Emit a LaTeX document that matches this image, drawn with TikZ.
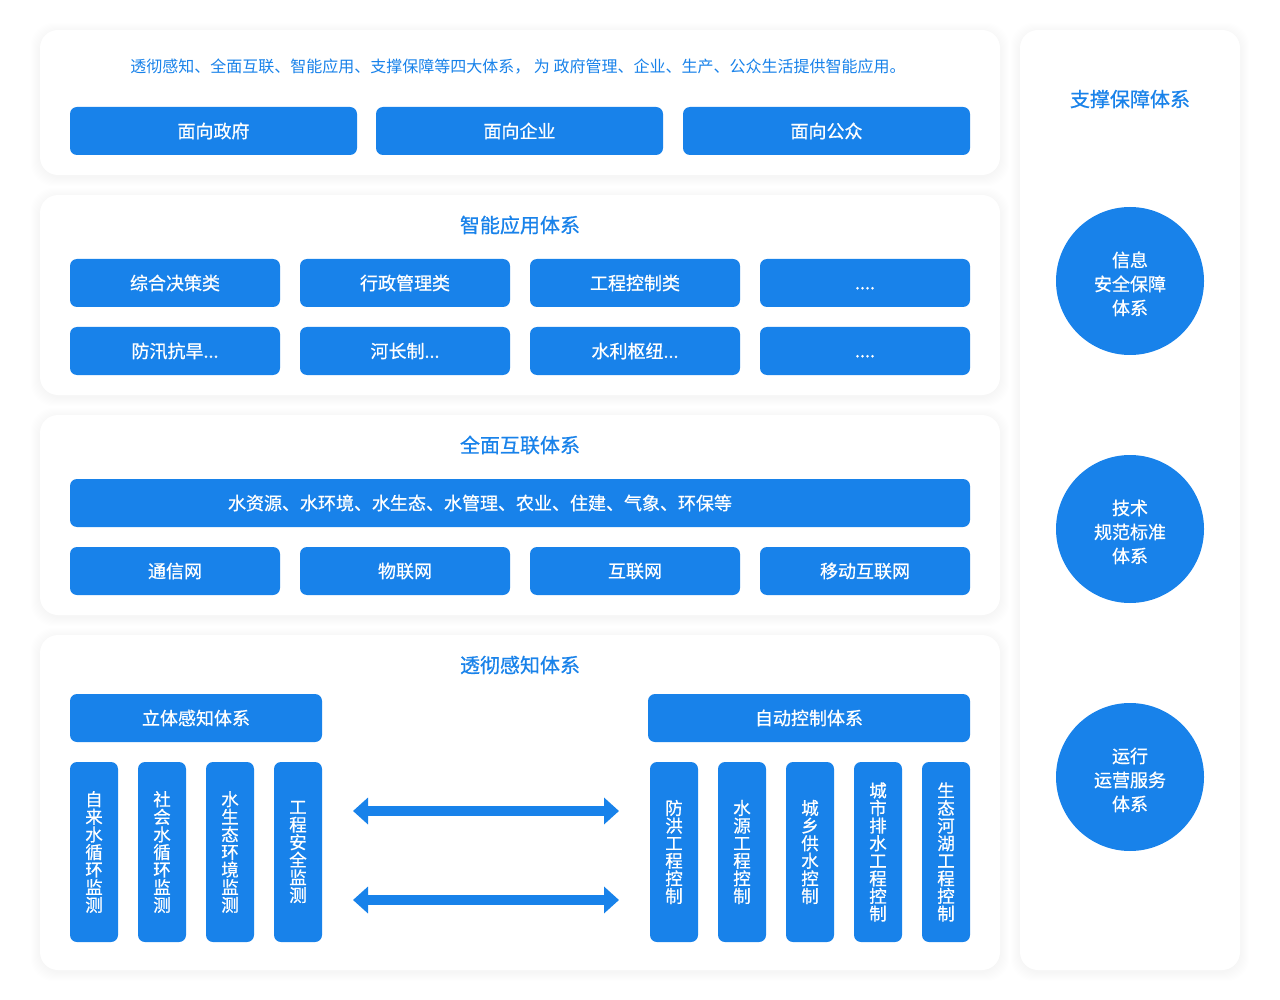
\documentclass[tikz,border=0pt]{standalone}
\usepackage{fontspec}
\setmainfont{Noto Sans CJK SC}
\newfontfamily\medfont[FakeBold=0.7]{Noto Sans CJK SC}
\usetikzlibrary{arrows.meta}

\definecolor{mainblue}{RGB}{24,130,234}
\newcommand*{\btnfont}{\fontsize{18}{20}\medfont}
\newcommand*{\uplift}{\rule{0pt}{21pt}}

\begin{document}
\begin{tikzpicture}
[
	x=1pt,
	y=-1pt,
	panel/.style={fill=white,rounded corners=18pt,inner sep=0pt},
	glow/.style={fill=black,opacity=0.005,rounded corners=22pt},
	btn/.style={fill=mainblue,text=white,rounded corners=7pt,inner sep=0pt,minimum height=48pt,font=\btnfont},
	vbtn/.style={btn,minimum width=48pt,minimum height=180pt,align=center,font=\fontsize{17.5}{17.6}\medfont},
	title/.style={text=mainblue,font=\fontsize{20}{22}\medfont},
	circ/.style={circle,fill=mainblue,text=white,minimum size=148pt,inner sep=0pt,align=center,font=\fontsize{18}{24}\medfont},
	biarrow/.style={draw=mainblue,line width=10pt,{Triangle[width=26pt,length=15pt]}-{Triangle[width=26pt,length=15pt]}}
]

	\useasboundingbox[fill=white] (0,0) rectangle (1280,1000);

	% soft shadows under the panels
	\foreach \xa/\ya/\xb/\yb in {40/30/1000/175,40/195/1000/395,40/415/1000/615,40/635/1000/970,1020/30/1240/970}
		\foreach \d in {1,...,9}
			\fill[glow] (\xa-\d,\ya-\d+2) rectangle (\xb+\d,\yb+\d+2);

	% panels
	\node[panel,minimum width=960pt,minimum height=145pt] (panTop) at (520,102.5) {};
	\node[panel,minimum width=960pt,minimum height=200pt] (panApp) at (520,295) {};
	\node[panel,minimum width=960pt,minimum height=200pt] (panNet) at (520,515) {};
	\node[panel,minimum width=960pt,minimum height=335pt] (panSense) at (520,802.5) {};
	\node[panel,minimum width=220pt,minimum height=940pt] (panSup) at (1130,500) {};

	% top: users
	\node[text=mainblue,font=\fontsize{16}{18}\selectfont] (intro) at (518,67)
		{透彻感知、全面互联、智能应用、支撑保障等四大体系， 为 政府管理、企业、生产、公众生活提供智能应用。};
	\node[btn,minimum width=287pt] (gov) at (213.5,131) {面向政府};
	\node[btn,minimum width=287pt] (ent) at (519.5,131) {面向企业};
	\node[btn,minimum width=287pt] (pub) at (826.5,131) {面向公众};

	% intelligent applications
	\node[title] (tApp) at (520,225) {智能应用体系};
	\node[btn,minimum width=210pt] (app1) at (175,283) {综合决策类};
	\node[btn,minimum width=210pt] (app2) at (405,283) {行政管理类};
	\node[btn,minimum width=210pt] (app3) at (635,283) {工程控制类};
	\node[btn,minimum width=210pt] (app4) at (865,283) {\vphantom{面}....};
	\node[btn,minimum width=210pt] (app5) at (175,351) {防汛抗旱...};
	\node[btn,minimum width=210pt] (app6) at (405,351) {河长制...};
	\node[btn,minimum width=210pt] (app7) at (635,351) {水利枢纽...};
	\node[btn,minimum width=210pt] (app8) at (865,351) {\vphantom{面}....};

	% interconnection
	\node[title] (tNet) at (520,445) {全面互联体系};
	\node[btn,minimum width=900pt] (data) at (520,503) {水资源、水环境、水生态、水管理、农业、住建、气象、环保等\rule{80pt}{0pt}};
	\node[btn,minimum width=210pt] (net1) at (175,571) {通信网};
	\node[btn,minimum width=210pt] (net2) at (405,571) {物联网};
	\node[btn,minimum width=210pt] (net3) at (635,571) {互联网};
	\node[btn,minimum width=210pt] (net4) at (865,571) {移动互联网};

	% sensing
	\node[title] (tSense) at (520,665) {透彻感知体系};
	\node[btn,minimum width=252pt] (mon) at (196,718) {立体感知体系};
	\node[btn,minimum width=322pt] (ctl) at (809,718) {自动控制体系};

	\node[vbtn] (mon1) at (94,852) {自\\来\\水\\循\\环\\监\\测};
	\node[vbtn] (mon2) at (162,852) {社\\会\\水\\循\\环\\监\\测};
	\node[vbtn] (mon3) at (230,852) {水\\生\\态\\环\\境\\监\\测};
	\node[vbtn] (mon4) at (298,852) {工\\程\\安\\全\\监\\测};

	\node[vbtn] (ctl1) at (674,852) {防\\洪\\工\\程\\控\\制};
	\node[vbtn] (ctl2) at (742,852) {水\\源\\工\\程\\控\\制};
	\node[vbtn] (ctl3) at (810,852) {城\\乡\\供\\水\\控\\制};
	\node[vbtn] (ctl4) at (878,852) {城\\市\\排\\水\\工\\程\\控\\制};
	\node[vbtn] (ctl5) at (946,852) {生\\态\\河\\湖\\工\\程\\控\\制};

	\coordinate (la) at (353,811);
	\coordinate (ra) at (619,811);
	\coordinate (lb) at (353,900);
	\coordinate (rb) at (619,900);
	\draw[biarrow] (la) -- (ra);
	\draw[biarrow] (lb) -- (rb);

	% support
	\node[title] (tSup) at (1130,99) {支撑保障体系};
	\node[circ] (sec) at (1130,281) {\uplift 信息\\安全保障\\体系};
	\node[circ] (std) at (1130,529) {\uplift 技术\\规范标准\\体系};
	\node[circ] (ops) at (1130,777) {\uplift 运行\\运营服务\\体系};

\end{tikzpicture}
\end{document}
